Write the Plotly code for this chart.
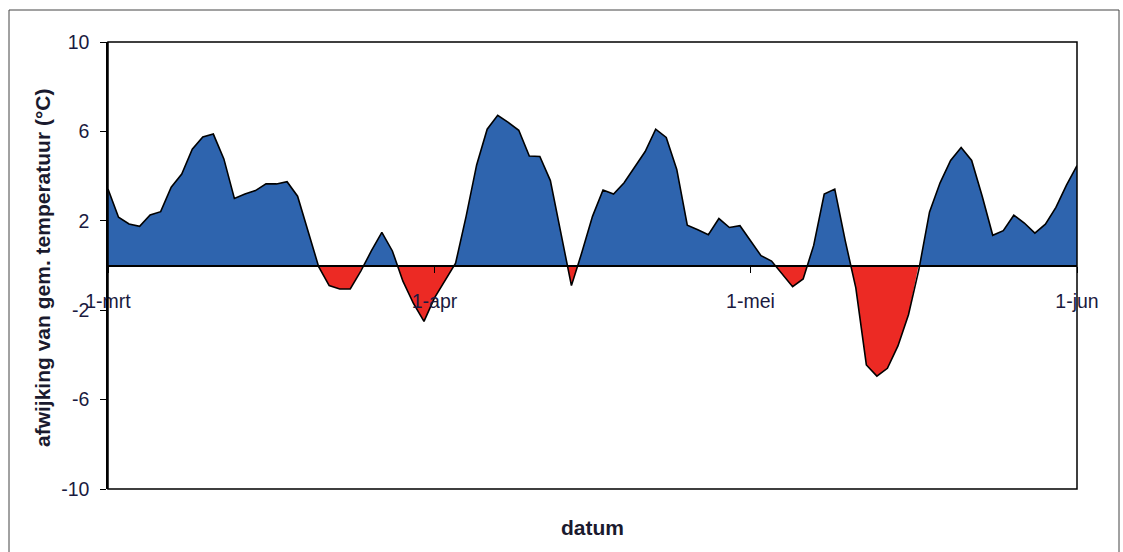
import plotly.graph_objects as go

# ---- data -------------------------------------------------------------
month_labels = ["1-mrt", "1-apr", "1-mei", "1-jun"]
month_start_day = [0, 31, 61, 92]          # day index of each label (1 Mar = 0)
y_tick_values = [-10, -6, -2, 2, 6, 10]
y_tick_labels = ["-10", "-6", "-2", "2", "6", "10"]

# daily deviation from mean temperature (°C), 1 March .. 1 June
deviation = [
    3.42, 2.16, 1.86, 1.75, 2.26, 2.41, 3.50, 4.09, 5.20, 5.75,
    5.88, 4.77, 3.00, 3.20, 3.35, 3.65, 3.65, 3.75, 3.10, 1.56,
    -0.05, -0.90, -1.05, -1.05, -0.25, 0.65, 1.48, 0.65, -0.70, -1.70,
    -2.50, -1.45, -0.65, 0.10, 2.20, 4.50, 6.10, 6.72, 6.40, 6.05,
    4.90, 4.88, 3.80, 1.50, -0.90, 0.60, 2.20, 3.38, 3.20, 3.70,
    4.40, 5.10, 6.10, 5.73, 4.30, 1.80, 1.60, 1.38, 2.10, 1.70,
    1.78, 1.10, 0.44, 0.20, -0.35, -0.95, -0.60, 0.90, 3.20, 3.42,
    1.10, -1.00, -4.45, -4.95, -4.60, -3.60, -2.20, -0.15, 2.40, 3.70,
    4.70, 5.28, 4.70, 3.10, 1.35, 1.56, 2.25, 1.90, 1.45, 1.85,
    2.60, 3.60, 4.47,
]
days = list(range(len(deviation)))

BLUE = "#2e64ae"
RED = "#ec2a24"
FONT = "Liberation Sans, Arial, sans-serif"
TXT = "#1a1a40"

fig = go.Figure()
# positive part: drawn in the upper-half subplot (clipped at zero)
fig.add_trace(go.Scatter(x=days, y=deviation, xaxis="x", yaxis="y", mode="lines",
                         fill="tozeroy", fillcolor=BLUE, line=dict(width=0),
                         hoverinfo="skip", showlegend=False))
# negative part: drawn in the lower-half subplot (clipped at zero)
fig.add_trace(go.Scatter(x=days, y=deviation, xaxis="x", yaxis="y2", mode="lines",
                         fill="tozeroy", fillcolor=RED, line=dict(width=0),
                         hoverinfo="skip", showlegend=False))
# outline + visible axes
fig.add_trace(go.Scatter(x=days, y=deviation, xaxis="x2", yaxis="y3", mode="lines",
                         line=dict(color="black", width=1.6),
                         showlegend=False))

xr = [0, len(deviation) - 1]
fig.update_layout(
    width=1123, height=552,
    margin=dict(l=108, r=46, t=42, b=63),
    paper_bgcolor="white",
    plot_bgcolor="rgba(0,0,0,0)",
    font=dict(family=FONT, size=19.5, color=TXT),
    xaxis=dict(range=xr, visible=False, anchor="y"),
    yaxis=dict(domain=[0.5, 1], range=[0, 10], visible=False, anchor="x"),
    yaxis2=dict(domain=[0, 0.5], range=[-10, 0], visible=False, anchor="x"),
    xaxis2=dict(range=xr, anchor="free", position=0.5,
                tickvals=month_start_day, ticktext=month_labels,
                ticks="outside", ticklen=6, tickcolor="black", tickwidth=1,
                ticklabelstandoff=12,
                showline=False, showgrid=False, zeroline=False,
                tickfont=dict(family=FONT, size=19.5, color=TXT)),
    yaxis3=dict(domain=[0, 1], range=[-10, 10], anchor="x2",
                tickvals=y_tick_values, ticktext=y_tick_labels,
                ticks="outside", ticklen=6,
                tickcolor="black", ticklabelstandoff=7,
                showline=True, linecolor="black", linewidth=1.5,
                showgrid=False, zeroline=True, zerolinecolor="black",
                zerolinewidth=1.6,
                tickfont=dict(family=FONT, size=19.5, color=TXT)),
    shapes=[
        dict(type="rect", xref="paper", yref="paper", x0=0, x1=1, y0=0, y1=1,
             line=dict(color="black", width=1.5), layer="above"),
        dict(type="rect", xref="paper", yref="paper",
             x0=(9 - 108) / 969, x1=(1119 - 108) / 969,
             y0=(489 - 560) / 447, y1=(489 - 10) / 447,
             line=dict(color="#444", width=1), layer="below"),
    ],
    annotations=[
        dict(text="<b>afwijking van gem. temperatuur (°C)</b>", textangle=-90,
             xref="paper", yref="paper", x=(42 - 108) / 969, y=(489 - 268) / 447,
             xanchor="center", yanchor="middle", showarrow=False,
             font=dict(family=FONT, size=21, color="#1a1a2e")),
        dict(text="<b>datum</b>", xref="paper", yref="paper",
             x=0.5, y=(489 - 527) / 447, xanchor="center", yanchor="middle",
             showarrow=False, font=dict(family=FONT, size=21, color="#1a1a2e")),
    ],
)

fig.write_html("out.html", config={"displayModeBar": False},
               post_script="document.body.style.margin='0';")
